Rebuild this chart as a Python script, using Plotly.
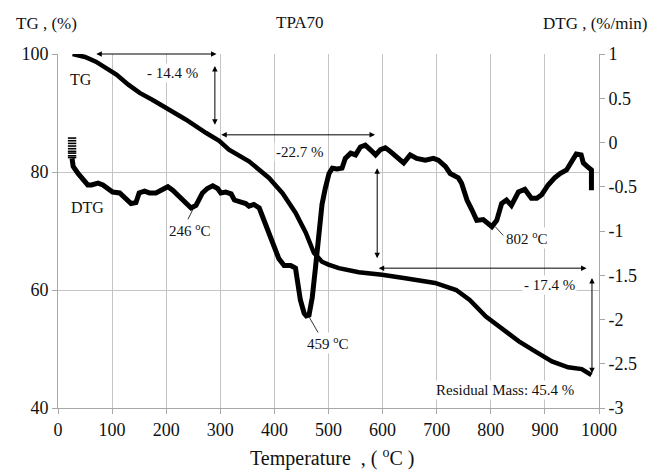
import plotly.graph_objects as go

# ---------------- data ----------------
tg_temp = [27, 50, 70, 90, 108, 130, 151, 175, 200, 236, 274, 298, 316, 353, 390, 415,
           439, 458, 473, 488, 500, 519, 556, 599, 642, 697, 736, 761, 791, 822, 852,
           882, 913, 943, 968, 986]
tg_mass = [100.0, 99.5, 98.7, 97.6, 96.5, 94.8, 93.4, 92.2, 90.9, 88.9, 86.6, 85.3, 83.8,
           81.8, 79.0, 76.4, 73.1, 69.7, 66.3, 64.8, 64.3, 63.7, 63.0, 62.6, 62.0, 61.2,
           60.0, 58.3, 55.5, 53.3, 51.3, 49.6, 47.9, 46.9, 46.6, 45.6]

dtg_temp = [26, 28, 37, 46, 55, 62, 68, 74, 83, 92, 101, 114, 126, 135, 144, 150, 160, 169,
            181, 193, 203, 212, 224, 237, 246, 255, 267, 276, 286, 295, 301, 310, 320, 326,
            338, 347, 353, 362, 372, 381, 390, 399, 408, 418, 430, 439, 442, 448, 455, 459,
            464, 470, 476, 482, 488, 494, 501, 507, 516, 525, 531, 541, 550, 559, 568, 577,
            587, 596, 605, 614, 630, 639, 651, 663, 679, 694, 703, 716, 725, 734, 740, 746,
            750, 756, 765, 774, 786, 796, 802, 811, 820, 829, 838, 851, 863, 875, 885, 894,
            906, 918, 928, 940, 949, 958, 967, 971, 978, 986, 986]
dtg_rate = [-0.18, -0.27, -0.35, -0.42, -0.48, -0.48, -0.47, -0.46, -0.48, -0.52, -0.56,
            -0.57, -0.63, -0.69, -0.68, -0.57, -0.55, -0.57, -0.57, -0.54, -0.50, -0.54,
            -0.61, -0.69, -0.74, -0.71, -0.57, -0.52, -0.49, -0.52, -0.57, -0.56, -0.58,
            -0.65, -0.67, -0.69, -0.72, -0.70, -0.74, -0.88, -1.01, -1.18, -1.31, -1.39,
            -1.39, -1.42, -1.56, -1.78, -1.93, -1.96, -1.95, -1.75, -1.41, -1.03, -0.70,
            -0.52, -0.35, -0.29, -0.30, -0.29, -0.18, -0.12, -0.14, -0.05, -0.03, -0.08,
            -0.14, -0.08, -0.06, -0.10, -0.18, -0.23, -0.14, -0.18, -0.20, -0.18, -0.20,
            -0.27, -0.35, -0.39, -0.40, -0.46, -0.54, -0.65, -0.76, -0.88, -0.87, -0.93,
            -0.95, -0.88, -0.69, -0.65, -0.71, -0.56, -0.53, -0.63, -0.63, -0.59, -0.48,
            -0.40, -0.35, -0.31, -0.22, -0.13, -0.14, -0.23, -0.27, -0.31, -0.54]

# noisy start of the DTG record (stacked short dashes)
dtg_start_temp = [26, 26, 26, 26, 26, 26, 26, 26, 26]
dtg_start_rate = [0.05, 0.02, -0.01, -0.04, -0.07, -0.10, -0.12, -0.15, -0.17]

x_ticks = [0, 100, 200, 300, 400, 500, 600, 700, 800, 900, 1000]
y_ticks = [40, 60, 80, 100]
y2_ticks = [1, 0.5, 0, -0.5, -1, -1.5, -2, -2.5, -3]
y2_labels = ["1", "0.5", "0", "-0.5", "-1", "-1.5", "-2", "-2.5", "-3"]

# double arrows on TG axis: (x0, y0, x1, y1)
mass_arrows = [(68, 100.0, 293, 100.0),
               (290, 98.2, 290, 88.0),
               (299, 86.3, 586, 86.3),
               (590, 80.9, 590, 65.4),
               (590, 63.7, 977, 63.7),
               (987, 62.3, 987, 45.9)]
step_labels = [("- 14.4 %", 212, 96.8), ("-22.7 %", 447, 83.45), ("- 17.4 %", 909, 60.8),
               ("Residual Mass: 45.4 %", 827, 43.1)]
peak_labels = [("246 <sup>o</sup>C", 244, -0.99), ("459 <sup>o</sup>C", 499, -2.26),
               ("802 <sup>o</sup>C", 867, -1.08)]
peak_leaders = [(249, -0.76, 240, -0.87), (464, -1.97, 482, -2.16), (808, -0.95, 823, -1.05)]

# ---------------- figure ----------------
FONT = "Liberation Serif"
GRID = "#c4c4c4"
AX = "#a8a8a8"

fig = go.Figure()
fig.add_trace(go.Scatter(x=tg_temp, y=tg_mass, mode="lines",
                         line=dict(color="black", width=4.5), showlegend=False))
fig.add_trace(go.Scatter(x=dtg_temp, y=dtg_rate, mode="lines", yaxis="y2",
                         line=dict(color="black", width=5), showlegend=False))
fig.add_trace(go.Scatter(x=dtg_start_temp, y=dtg_start_rate, mode="markers", yaxis="y2",
                         marker=dict(symbol="line-ew-open", size=6, color="black",
                                     line=dict(color="black", width=1.6)),
                         showlegend=False))

annotations = []
for x0, y0, x1, y1 in mass_arrows:
    annotations.append(dict(x=x1, y=y1, ax=x0, ay=y0, xref="x", yref="y", axref="x", ayref="y",
                            text="", showarrow=True, arrowside="end+start",
                            arrowhead=2, startarrowhead=2, arrowsize=1.1, startarrowsize=1.1,
                            arrowwidth=1, arrowcolor="black", standoff=0, startstandoff=0))
for txt, x, y in step_labels:
    annotations.append(dict(x=x, y=y, xref="x", yref="y", text=txt, showarrow=False,
                            bgcolor="white", borderpad=1,
                            font=dict(family=FONT, size=15, color="#111")))
for txt, x, y in peak_labels:
    annotations.append(dict(x=x, y=y, xref="x", yref="y2", text=txt, showarrow=False,
                            bgcolor="white", borderpad=1,
                            font=dict(family=FONT, size=15, color="#111")))
annotations.append(dict(x=43, y=95.6, xref="x", yref="y", text="TG", showarrow=False,
                        font=dict(family=FONT, size=16, color="#111")))
annotations.append(dict(x=54, y=-0.73, xref="x", yref="y2", text="DTG", showarrow=False,
                        font=dict(family=FONT, size=16, color="#111")))
# titles
annotations.append(dict(x=-0.081, y=1.085, xref="paper", yref="paper", xanchor="left",
                        yanchor="middle", text="TG , (%)", showarrow=False,
                        font=dict(family=FONT, size=17, color="#111")))
annotations.append(dict(x=0.892, y=1.085, xref="paper", yref="paper", xanchor="left",
                        yanchor="middle", text="DTG , (%/min)", showarrow=False,
                        font=dict(family=FONT, size=17, color="#111")))
annotations.append(dict(x=0.4475, y=1.09, xref="paper", yref="paper", xanchor="center",
                        yanchor="middle", text="TPA70", showarrow=False,
                        font=dict(family=FONT, size=17, color="#111")))
annotations.append(dict(x=0.506, y=-0.141, xref="paper", yref="paper", xanchor="center",
                        yanchor="middle", text="Temperature  , ( <sup>o</sup>C )", showarrow=False,
                        font=dict(family=FONT, size=20, color="#111")))

shapes = []
for x0, y0, x1, y1 in peak_leaders:
    shapes.append(dict(type="line", x0=x0, y0=y0, x1=x1, y1=y1, xref="x", yref="y2",
                       line=dict(color="#333", width=1)))

fig.update_layout(
    width=649, height=470,
    margin=dict(l=58, r=48, t=54, b=62),
    paper_bgcolor="white", plot_bgcolor="white",
    font=dict(family=FONT, size=18, color="#111"),
    xaxis=dict(range=[0, 1000], tickvals=x_ticks, showgrid=True, gridcolor=GRID, gridwidth=1,
               showline=True, linecolor=AX, linewidth=1, zeroline=False,
               ticks="outside", ticklen=5, tickcolor=AX, tickfont=dict(size=18)),
    yaxis=dict(range=[40, 100], tickvals=y_ticks, showgrid=True, gridcolor=GRID, gridwidth=1,
               showline=True, linecolor=AX, linewidth=1, zeroline=False,
               ticks="outside", ticklen=5, tickcolor=AX, tickfont=dict(size=18)),
    yaxis2=dict(range=[-3, 1], tickvals=y2_ticks, ticktext=y2_labels, overlaying="y",
                side="right", showgrid=False, showline=True, linecolor=AX, linewidth=1,
                zeroline=False, ticks="outside", ticklen=5, tickcolor=AX,
                tickfont=dict(size=18)),
    annotations=annotations,
    shapes=shapes,
)

fig.write_html("out.html")
